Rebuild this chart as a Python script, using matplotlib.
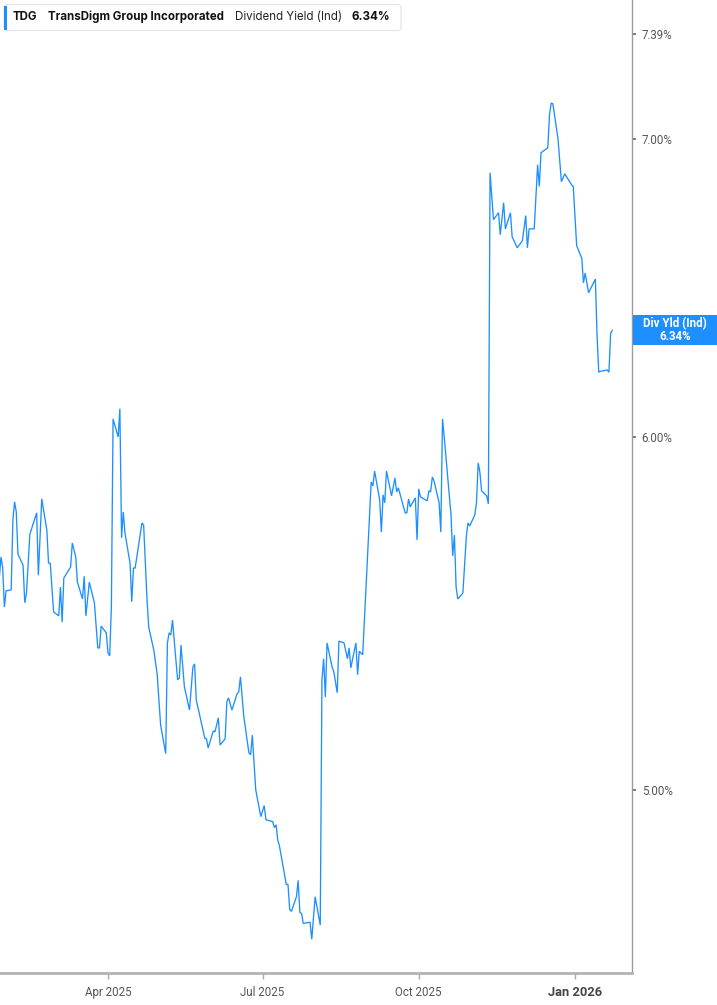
import matplotlib
matplotlib.use("Agg")
import matplotlib.pyplot as plt
import matplotlib.transforms as mtransforms
from matplotlib.patches import Rectangle, FancyBboxPatch
from matplotlib.ticker import NullLocator, NullFormatter
import pandas as pd

# TDG dividend yield (indicated)
DATES = [
    "2025-01-27", "2025-01-28", "2025-01-29", "2025-01-30", "2025-01-31",
    "2025-02-03", "2025-02-04", "2025-02-05", "2025-02-06", "2025-02-07",
    "2025-02-10", "2025-02-11", "2025-02-12", "2025-02-14", "2025-02-18",
    "2025-02-19", "2025-02-21", "2025-02-24", "2025-02-25", "2025-02-26",
    "2025-02-28", "2025-03-03", "2025-03-04", "2025-03-05", "2025-03-06",
    "2025-03-10", "2025-03-11", "2025-03-13", "2025-03-14", "2025-03-17",
    "2025-03-18", "2025-03-19", "2025-03-21", "2025-03-24", "2025-03-26",
    "2025-03-27", "2025-03-28", "2025-03-31", "2025-04-01", "2025-04-02",
    "2025-04-03", "2025-04-04", "2025-04-07", "2025-04-08", "2025-04-09",
    "2025-04-10", "2025-04-11", "2025-04-14", "2025-04-15", "2025-04-16",
    "2025-04-17", "2025-04-21", "2025-04-22", "2025-04-24", "2025-04-25",
    "2025-04-28", "2025-04-30", "2025-05-02", "2025-05-05", "2025-05-06",
    "2025-05-07", "2025-05-08", "2025-05-09", "2025-05-12", "2025-05-13",
    "2025-05-14", "2025-05-16", "2025-05-19", "2025-05-21", "2025-05-22",
    "2025-05-23", "2025-05-28", "2025-05-29", "2025-05-30", "2025-06-02",
    "2025-06-03", "2025-06-05", "2025-06-06", "2025-06-09", "2025-06-10",
    "2025-06-11", "2025-06-13", "2025-06-16", "2025-06-17", "2025-06-18",
    "2025-06-20", "2025-06-23", "2025-06-24", "2025-06-25", "2025-06-27",
    "2025-06-30", "2025-07-02", "2025-07-03", "2025-07-07", "2025-07-08",
    "2025-07-09", "2025-07-10", "2025-07-11", "2025-07-15", "2025-07-16",
    "2025-07-17", "2025-07-18", "2025-07-21", "2025-07-22", "2025-07-23",
    "2025-07-24", "2025-07-25", "2025-07-29", "2025-07-30", "2025-08-01",
    "2025-08-04", "2025-08-05", "2025-08-06", "2025-08-07", "2025-08-08",
    "2025-08-11", "2025-08-12", "2025-08-14", "2025-08-15", "2025-08-18",
    "2025-08-20", "2025-08-21", "2025-08-22", "2025-08-25", "2025-08-26",
    "2025-08-27", "2025-08-29", "2025-09-03", "2025-09-04", "2025-09-05",
    "2025-09-08", "2025-09-09", "2025-09-10", "2025-09-11", "2025-09-12",
    "2025-09-15", "2025-09-17", "2025-09-18", "2025-09-19", "2025-09-23",
    "2025-09-24", "2025-09-25", "2025-09-26", "2025-09-29", "2025-09-30",
    "2025-10-01", "2025-10-02", "2025-10-06", "2025-10-07", "2025-10-08",
    "2025-10-09", "2025-10-10", "2025-10-13", "2025-10-14", "2025-10-15",
    "2025-10-16", "2025-10-20", "2025-10-21", "2025-10-22", "2025-10-23",
    "2025-10-24", "2025-10-27", "2025-10-29", "2025-10-30", "2025-10-31",
    "2025-11-03", "2025-11-04", "2025-11-05", "2025-11-06", "2025-11-07",
    "2025-11-10", "2025-11-11", "2025-11-12", "2025-11-14", "2025-11-17",
    "2025-11-18", "2025-11-20", "2025-11-21", "2025-11-24", "2025-11-25",
    "2025-11-28", "2025-12-01", "2025-12-03", "2025-12-04", "2025-12-05",
    "2025-12-08", "2025-12-10", "2025-12-11", "2025-12-12", "2025-12-16",
    "2025-12-17", "2025-12-18", "2025-12-19", "2025-12-22", "2025-12-23",
    "2025-12-24", "2025-12-26", "2025-12-30", "2025-12-31", "2026-01-02",
    "2026-01-05", "2026-01-06", "2026-01-07", "2026-01-09", "2026-01-13",
    "2026-01-14", "2026-01-15", "2026-01-16", "2026-01-20", "2026-01-21",
    "2026-01-22", "2026-01-23",
]

YIELDS = [
    5.578, 5.639, 5.607, 5.495, 5.541,
    5.544, 5.748, 5.802, 5.772, 5.647,
    5.615, 5.507, 5.535, 5.706, 5.769,
    5.586, 5.811, 5.718, 5.621, 5.621,
    5.481, 5.470, 5.552, 5.452, 5.578,
    5.610, 5.680, 5.639, 5.566, 5.518,
    5.583, 5.470, 5.566, 5.507, 5.380,
    5.380, 5.441, 5.422, 5.366, 5.358,
    5.495, 6.056, 6.000, 6.088, 5.695,
    5.772, 5.709, 5.621, 5.510, 5.607,
    5.607, 5.739, 5.733, 5.515, 5.438,
    5.374, 5.306, 5.170, 5.094, 5.394,
    5.422, 5.416, 5.458, 5.292, 5.297,
    5.388, 5.273, 5.210, 5.327, 5.336,
    5.237, 5.135, 5.133, 5.109, 5.154,
    5.152, 5.189, 5.117, 5.133, 5.232,
    5.243, 5.210, 5.254, 5.259, 5.300,
    5.192, 5.096, 5.091, 5.143, 5.000,
    4.931, 4.959, 4.923, 4.918, 4.903,
    4.910, 4.871, 4.856, 4.761, 4.761,
    4.700, 4.695, 4.731, 4.771, 4.693,
    4.690, 4.666, 4.669, 4.628, 4.731,
    4.662, 5.292, 5.350, 5.245, 5.394,
    5.327, 5.314, 5.257, 5.399, 5.394,
    5.350, 5.380, 5.325, 5.394, 5.306,
    5.371, 5.361, 5.862, 5.850, 5.895,
    5.808, 5.712, 5.823, 5.799, 5.895,
    5.820, 5.874, 5.832, 5.844, 5.769,
    5.769, 5.811, 5.787, 5.814, 5.689,
    5.841, 5.817, 5.805, 5.835, 5.832,
    5.877, 5.865, 5.799, 5.712, 6.056,
    6.000, 5.763, 5.642, 5.703, 5.552,
    5.518, 5.535, 5.698, 5.739, 5.730,
    5.763, 5.799, 5.920, 5.892, 5.835,
    5.820, 5.796, 6.878, 6.713, 6.737,
    6.661, 6.772, 6.681, 6.737, 6.654,
    6.616, 6.640, 6.727, 6.616, 6.681,
    6.681, 6.906, 6.829, 6.949, 6.967,
    7.087, 7.130, 7.127, 7.000, 6.924,
    6.846, 6.874, 6.835, 6.829, 6.623,
    6.581, 6.497, 6.530, 6.464, 6.510,
    6.324, 6.204, 6.207, 6.211, 6.204,
    6.330, 6.340,
]

Y_TICKS = [5.00, 6.00, 7.00, 7.39]
X_TICKS = ["2025-04-01", "2025-07-01", "2025-10-01", "2026-01-01"]
X_TICK_LABELS = ["Apr 2025", "Jul 2025", "Oct 2025", "Jan 2026"]

TICKER = "TDG"
COMPANY = "TransDigm Group Incorporated"
METRIC = "Dividend Yield (Ind)"
LAST_VALUE = YIELDS[-1]
BADGE_TITLE = "Div Yld (Ind)"

BLUE = "#1e8fff"
W, H = 717, 1005

plt.rcParams["font.family"] = ["Roboto", "DejaVu Sans"]

fig = plt.figure(figsize=(W / 100, H / 100), dpi=100)
ax = fig.add_axes([0, 32 / H, 632 / W, 1 - 32 / H])

dates = pd.to_datetime(DATES)
ax.plot(dates, YIELDS, color=BLUE, lw=0.95, solid_joinstyle="miter")

ax.set_yscale("log")
ax.set_ylim(4.548, 7.52)
ax.set_xlim(pd.Timestamp("2025-01-27 10:00"), pd.Timestamp("2026-02-03 14:00"))

# y axis on the right
ax.yaxis.tick_right()
ax.set_yticks(Y_TICKS)
ax.set_yticklabels([f"{v:.2f}%" for v in Y_TICKS])
ax.yaxis.set_minor_locator(NullLocator())
ax.yaxis.set_minor_formatter(NullFormatter())
ax.tick_params(axis="y", length=3, width=1.4, color="#777777", pad=4,
               labelsize=8.3, labelcolor="#555555")

# x axis
ax.set_xticks(pd.to_datetime(X_TICKS))
ax.set_xticklabels(X_TICK_LABELS)
ax.tick_params(axis="x", length=4, width=1, color="#aaaaaa", pad=5,
               labelsize=8.3, labelcolor="#555555")
last_lbl = ax.get_xticklabels()[-1]
last_lbl.set_fontweight("bold")
last_lbl.set_color("#444444")
last_lbl.set_fontsize(9.3)

for side in ("top", "left"):
    ax.spines[side].set_visible(False)
ax.spines["right"].set_color("#9a9a9a")
ax.spines["right"].set_linewidth(1)
ax.spines["bottom"].set_color("#b3b3b3")
ax.spines["bottom"].set_linewidth(2)

# header legend box
px = mtransforms.IdentityTransform()
fig.add_artist(FancyBboxPatch((4, H - 30.5), 397, 26,
                              boxstyle="round,pad=0,rounding_size=3",
                              transform=px, fc="white", ec="#e4e4e4", lw=0.8))
fig.add_artist(Rectangle((4, H - 29.5), 3, 24, transform=px, fc=BLUE, ec="none"))
head_y = 1 - 17 / H
head_size = 8.3
fig.text(13 / W, head_y, TICKER, family="Inter", fontweight="bold",
         fontsize=head_size, color="#111111", va="center")
fig.text(48 / W, head_y, COMPANY, family="Inter", fontweight="bold",
         fontsize=head_size, color="#111111", va="center")
fig.text(235 / W, head_y, METRIC, family="Inter", fontsize=head_size,
         color="#222222", va="center")
fig.text(352 / W, head_y, f"{LAST_VALUE:.2f}%", family="Inter", fontweight="bold",
         fontsize=head_size, color="#111111", va="center")

# last value badge on the right axis
anchor = mtransforms.blended_transform_factory(ax.transAxes, ax.transData)
badge = fig.dpi_scale_trans + mtransforms.ScaledTranslation(1.0, LAST_VALUE, anchor)
fig.add_artist(Rectangle((0.01, -0.15), 0.85, 0.30, transform=badge,
                         fc=BLUE, ec="none"))
fig.text(0.43, 0.0, f"{BADGE_TITLE}\n{LAST_VALUE:.2f}%", transform=badge,
         ha="center", va="center", color="white", fontweight="bold",
         fontsize=8.3, linespacing=1.0)

fig.savefig("out.png", dpi=100)
